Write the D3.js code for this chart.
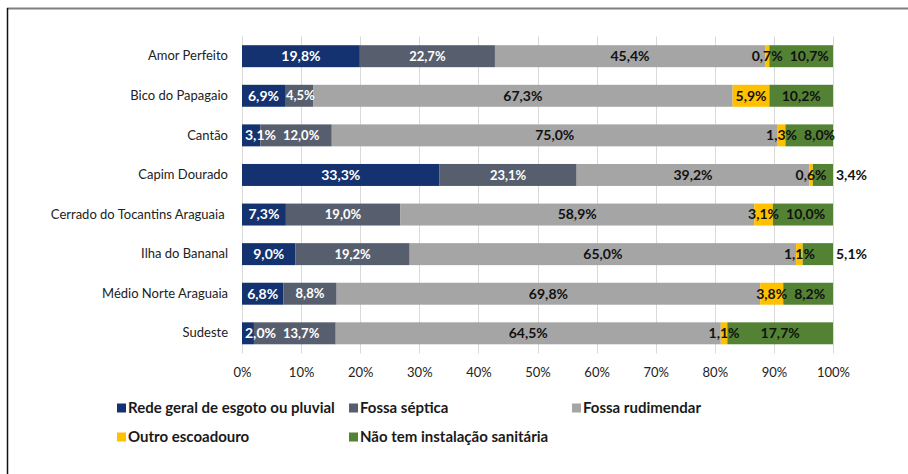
<!DOCTYPE html>
<html>
<head>
<meta charset="utf-8">
<script src="https://cdn.jsdelivr.net/npm/d3@7"></script>
<style>
  html, body { margin: 0; padding: 0; background: #fff; }
  svg { display: block; font-family: Lato, "Open Sans", sans-serif; }
</style>
</head>
<body>
<svg id="chart" width="908" height="474"></svg>
<script>
// Regiões (eixo vertical) e tipos de esgotamento sanitário
const regions = [
  "Amor Perfeito", "Bico do Papagaio", "Cantão", "Capim Dourado",
  "Cerrado do Tocantins Araguaia ", "Ilha do Bananal",
  "Médio Norte Araguaia", "Sudeste"
];
const seriesNames = [
  "Rede geral de esgoto ou pluvial", "Fossa séptica", "Fossa rudimendar",
  "Outro escoadouro", "Não tem instalação sanitária"
];
// Percentuais por região, na ordem das regiões acima
const redeGeral    = [19.8, 6.9, 3.1, 33.3, 7.3, 9.0, 6.8, 2.0];
const fossaSeptica = [22.7, 4.5, 12.0, 23.1, 19.0, 19.2, 8.8, 13.7];
const fossaRudim   = [45.4, 67.3, 75.0, 39.2, 58.9, 65.0, 69.8, 64.5];
const outroEscoad  = [0.7, 5.9, 1.3, 0.6, 3.1, 1.1, 3.8, 1.1];
const semInstal    = [10.7, 10.2, 8.0, 3.4, 10.0, 5.1, 8.2, 17.7];
const xTicks = [0, 0.1, 0.2, 0.3, 0.4, 0.5, 0.6, 0.7, 0.8, 0.9, 1.0];

const colors = ["#143270", "#575F6F", "#A5A5A5", "#FFC000", "#548235"];
const labelColors = ["#ffffff", "#ffffff", "#111111", "#111111", "#111111"];
const labelSizes = [14, 13, 14, 14, 14];

const valueArrays = [redeGeral, fossaSeptica, fossaRudim, outroEscoad, semInstal];
const rows = regions.map((r, i) => {
  const o = { region: r };
  seriesNames.forEach((s, k) => { o[s] = valueArrays[k][i]; });
  return o;
});

const svg = d3.select("#chart");

// Moldura
svg.append("line").attr("x1", 7).attr("x2", 908).attr("y1", 8.5).attr("y2", 8.5)
  .attr("stroke", "#7f7f7f").attr("stroke-width", 2);
svg.append("line").attr("x1", 7.5).attr("x2", 7.5).attr("y1", 8).attr("y2", 474)
  .attr("stroke", "#111").attr("stroke-width", 1.5);

const margin = { left: 242, right: 75, top: 36.5, bottom: 121 };
const W = 908, H = 474;

const x = d3.scaleLinear().domain([0, 1]).range([margin.left, W - margin.right]);
const y = d3.scaleBand().domain(regions)
  .range([margin.top, H - margin.bottom]).paddingInner(0.445).paddingOuter(0.22);

const stack = d3.stack().keys(seriesNames).offset(d3.stackOffsetExpand);
const layers = stack(rows);

// Linhas de grade verticais
svg.append("g").selectAll("line").data(xTicks).join("line")
  .attr("x1", d => Math.round(x(d)) + 0.5).attr("x2", d => Math.round(x(d)) + 0.5)
  .attr("y1", margin.top).attr("y2", H - margin.bottom + 0.5)
  .attr("stroke", "#d9d9d9").attr("stroke-width", 1);

// Eixo x
const xAxis = svg.append("g")
  .attr("transform", `translate(0,${H - margin.bottom})`)
  .call(d3.axisBottom(x).tickValues(xTicks).tickFormat(d3.format(".0%")).tickSize(0).tickPadding(15));
xAxis.select(".domain").remove();
xAxis.selectAll("text").attr("font-size", 13).attr("fill", "#222")
  .attr("font-family", "Lato, sans-serif");

// Eixo y
const yAxis = svg.append("g")
  .attr("transform", `translate(${margin.left},0)`)
  .call(d3.axisLeft(y).tickSize(0).tickPadding(14));
yAxis.select(".domain").remove();
yAxis.selectAll("text").attr("font-size", 13).attr("fill", "#222")
  .attr("font-family", "Lato, sans-serif").style("white-space", "pre");

// Barras empilhadas
const g = svg.append("g");
layers.forEach((layer, k) => {
  g.append("g").selectAll("rect").data(layer).join("rect")
    .attr("x", d => x(d[0]))
    .attr("y", d => y(d.data.region))
    .attr("width", d => x(d[1]) - x(d[0]))
    .attr("height", y.bandwidth())
    .attr("fill", colors[k]);
});

// Rótulos de valor: centrados no segmento, afastados entre si quando se sobrepõem
const fmt = v => d3.format(".1f")(v).replace(".", ",") + "%";
const labelLayer = g.append("g");
const gap = 7;
regions.forEach((region, i) => {
  let prevRight = x(0) + 1;
  layers.forEach((layer, k) => {
    const d = layer[i];
    const x0 = x(d[0]), x1 = x(d[1]);
    const t = labelLayer.append("text")
      .attr("y", y(region) + y.bandwidth() / 2)
      .attr("dy", "0.35em")
      .attr("font-size", labelSizes[k])
      .attr("font-weight", "bold")
      .attr("text-anchor", "start")
      .text(fmt(d.data[layer.key]));
    const tw = t.node().getComputedTextLength();
    const isLast = k === layers.length - 1;
    let left;
    let fill = labelColors[k];
    if (isLast && (x1 - x0) < 32) {
      left = x1 + 3;
      fill = "#111";
    } else {
      left = (x0 + x1) / 2 - tw / 2;
      const minLeft = k === 0 ? prevRight + 2 : prevRight + gap;
      if (left < minLeft) left = minLeft;
    }
    t.attr("x", left).attr("fill", fill);
    prevRight = left + tw;
  });
});

// Legenda
const legendPos = [[117, 408], [349, 408], [572, 408], [117, 437], [349, 437]];
const legend = svg.append("g");
seriesNames.forEach((s, k) => {
  const [lx, ly] = legendPos[k];
  legend.append("rect").attr("x", lx).attr("y", ly - 4.5).attr("width", 9).attr("height", 9)
    .attr("fill", colors[k]);
  legend.append("text").attr("x", lx + 11).attr("y", ly).attr("dy", "0.35em")
    .attr("font-size", 15).attr("font-weight", "bold").attr("fill", "#1a1a1a").text(s);
});
</script>
</body>
</html>
